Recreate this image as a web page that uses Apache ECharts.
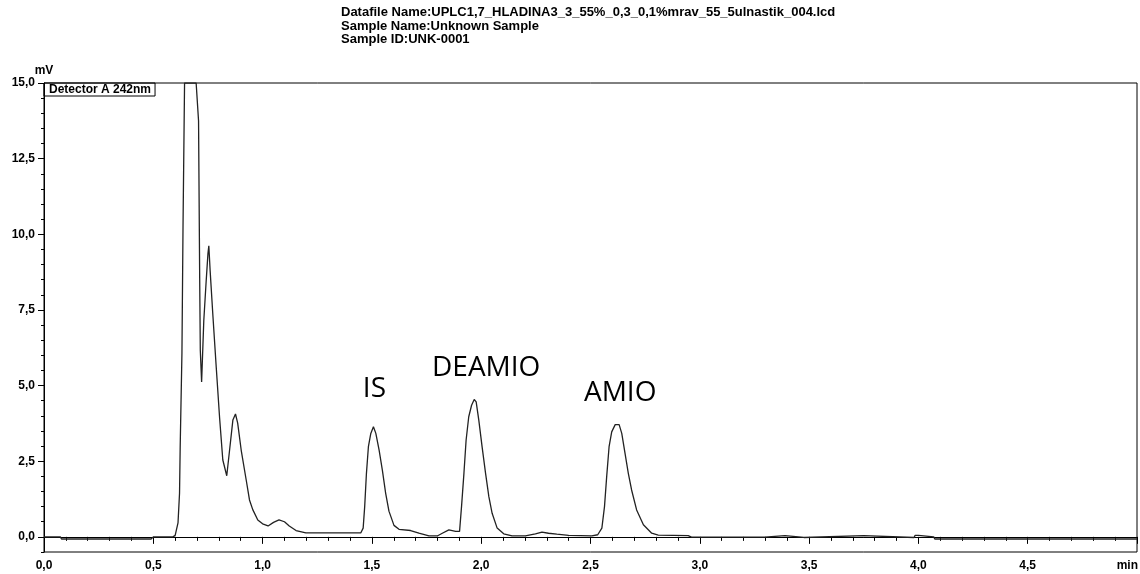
<!DOCTYPE html>
<html>
<head>
<meta charset="utf-8">
<script src="https://cdn.jsdelivr.net/npm/echarts@6/dist/echarts.min.js"></script>
<style>
html,body{margin:0;padding:0;background:#fff;}
#c{width:1140px;height:574px;}
</style>
</head>
<body>
<div id="c"></div>
<script>
// ---- data ----
const headerLines = [
  'Datafile Name:UPLC1,7_HLADINA3_3_55%_0,3_0,1%mrav_55_5ulnastik_004.lcd',
  'Sample Name:Unknown Sample',
  'Sample ID:UNK-0001'
];
const seriesName = 'Detector A 242nm';
const yUnit = 'mV';
const xUnit = 'min';
const yMajorTicks = [0, 2.5, 5, 7.5, 10, 12.5, 15];

// retention time (min)
const times = [
  0.000, 0.075, 0.080, 0.490, 0.500, 0.590, 0.600, 0.613, 0.620, 0.623,
  0.631, 0.636, 0.643, 0.696, 0.707, 0.712, 0.715, 0.721, 0.731, 0.742,
  0.750, 0.754, 0.760, 0.772, 0.788, 0.803, 0.818, 0.836, 0.849, 0.864,
  0.876, 0.886, 0.902, 0.925, 0.940, 0.955, 0.978, 1.000, 1.025, 1.050,
  1.075, 1.100, 1.122, 1.153, 1.198, 1.449, 1.460, 1.467, 1.475, 1.484,
  1.495, 1.507, 1.518, 1.533, 1.548, 1.563, 1.578, 1.601, 1.624, 1.677,
  1.715, 1.761, 1.799, 1.822, 1.852, 1.883, 1.901, 1.910, 1.921, 1.931,
  1.943, 1.956, 1.968, 1.977, 1.989, 2.004, 2.020, 2.035, 2.050, 2.073,
  2.103, 2.141, 2.202, 2.248, 2.278, 2.308, 2.346, 2.400, 2.506, 2.533,
  2.552, 2.564, 2.574, 2.585, 2.597, 2.613, 2.631, 2.643, 2.658, 2.673,
  2.688, 2.711, 2.742, 2.780, 2.810, 2.947, 2.962, 2.995, 3.000, 3.005,
  3.297, 3.300, 3.390, 3.395, 3.476, 3.479, 3.750, 3.757, 3.980, 3.985,
  4.000, 4.005, 4.070, 4.075, 5.000
];
// detector signal (mV); off-scale main peak drawn at the 15 mV frame
const signal = [
  0.00, 0.00, -0.07, -0.07, 0.00, 0.00, 0.05, 0.46, 1.44, 2.98,
  6.07, 10.30, 15.00, 15.00, 13.75, 8.70, 6.17, 5.12, 7.15, 8.47,
  9.36, 9.62, 8.80, 7.38, 5.60, 3.96, 2.54, 2.02, 2.87, 3.86,
  4.06, 3.76, 2.87, 1.88, 1.22, 0.90, 0.56, 0.43, 0.36, 0.48,
  0.56, 0.50, 0.36, 0.21, 0.13, 0.13, 0.29, 1.00, 2.10, 2.98,
  3.42, 3.64, 3.42, 2.87, 2.20, 1.44, 0.85, 0.38, 0.25, 0.21,
  0.12, 0.03, 0.03, 0.12, 0.23, 0.18, 0.18, 1.00, 2.10, 3.20,
  3.97, 4.35, 4.54, 4.46, 3.86, 2.98, 2.10, 1.33, 0.78, 0.29,
  0.10, 0.03, 0.03, 0.10, 0.16, 0.12, 0.09, 0.05, 0.03, 0.07,
  0.29, 1.00, 1.99, 2.98, 3.47, 3.71, 3.71, 3.42, 2.76, 2.10,
  1.55, 0.89, 0.40, 0.12, 0.06, 0.04, -0.01, -0.01, 0.05, -0.01,
  -0.01, 0.04, 0.04, -0.02, -0.02, 0.04, 0.04, -0.02, -0.02, 0.05,
  0.05, 0.00, 0.00, -0.07, -0.07
];
// annotated peaks
const peakNames = ['IS', 'DEAMIO', 'AMIO'];
const peakTimes = [1.507, 1.968, 2.622];
const peakHeights = [3.64, 4.54, 3.71];

// ---- chart ----
const fmt = v => v.toFixed(1).replace('.', ',');
const FONT = 'Arial, "Liberation Sans", sans-serif';
const tickFont = {fontFamily: FONT, fontWeight: 'bold', fontSize: 12, color: '#000'};
const chart = echarts.init(document.getElementById('c'), null, {renderer: 'canvas'});

const labelOffsets = [[1, -38], [12, -31], [3, -32]];

chart.setOption({
  animation: false,
  backgroundColor: '#fff',
  title: {
    text: headerLines.join('\n'),
    left: 341, top: 6, padding: 0,
    textStyle: {fontFamily: FONT, fontWeight: 'bold', fontSize: 13, lineHeight: 13.5, color: '#000'}
  },
  legend: {
    left: 44, top: 83,
    padding: [1, 4, 0, 0],
    icon: 'rect', itemWidth: 0, itemHeight: 0,
    borderColor: '#000', borderWidth: 1,
    selectedMode: false,
    textStyle: {fontFamily: FONT, fontWeight: 'bold', fontSize: 12, color: '#000'},
    data: [seriesName]
  },
  grid: {left: 44, right: 2, top: 83, bottom: 22, show: true, borderColor: '#000', borderWidth: 1, backgroundColor: 'transparent'},
  xAxis: {
    type: 'value', min: 0, max: 5, interval: 0.5,
    axisLine: {lineStyle: {color: '#000', width: 1}},
    axisTick: {length: 7, lineStyle: {color: '#000'}},
    minorTick: {show: true, splitNumber: 5, length: 4, lineStyle: {color: '#000'}},
    splitLine: {show: false},
    axisLabel: Object.assign({margin: 8, formatter: v => (v >= 5 ? '' : fmt(v))}, tickFont)
  },
  yAxis: [{
    type: 'value', min: -0.5, max: 15, interval: 0.5, position: 'left',
    name: yUnit, nameLocation: 'end', nameGap: 6,
    nameTextStyle: Object.assign({}, tickFont, {align: 'center'}),
    axisLine: {show: true, lineStyle: {color: '#000', width: 1}},
    axisTick: {length: 3, lineStyle: {color: '#000'}},
    splitLine: {show: false},
    axisLabel: Object.assign({margin: 9, formatter: v => {
      const r = Math.round(v * 2) / 2;
      return (r >= 0 && Math.abs(r / 2.5 - Math.round(r / 2.5)) < 1e-6) ? fmt(r) : '';
    }}, tickFont)
  }, {
    type: 'value', min: -0.5, max: 15, position: 'left',
    axisLine: {show: false},
    axisTick: {show: true, length: 6, customValues: yMajorTicks, lineStyle: {color: '#000'}},
    axisLabel: {show: false},
    splitLine: {show: false}
  }],
  graphic: [{
    type: 'text', right: 2, top: 560,
    style: {text: xUnit, fontFamily: FONT, fontWeight: 'bold', fontSize: 12, fill: '#000'}
  }],
  series: [{
    name: seriesName,
    type: 'line',
    data: times.map((t, i) => [t, signal[i]]),
    showSymbol: false, symbol: 'none',
    clip: true,
    lineStyle: {color: '#222', width: 1.3},
    markPoint: {
      symbol: 'circle', symbolSize: 0,
      label: {show: true, fontFamily: '"Open Sans", "Noto Sans", sans-serif', fontSize: 28, color: '#000', formatter: p => p.name},
      data: peakNames.map((n, i) => ({name: n, coord: [peakTimes[i], peakHeights[i]], label: {offset: labelOffsets[i]}}))
    }
  }]
});
</script>
</body>
</html>
